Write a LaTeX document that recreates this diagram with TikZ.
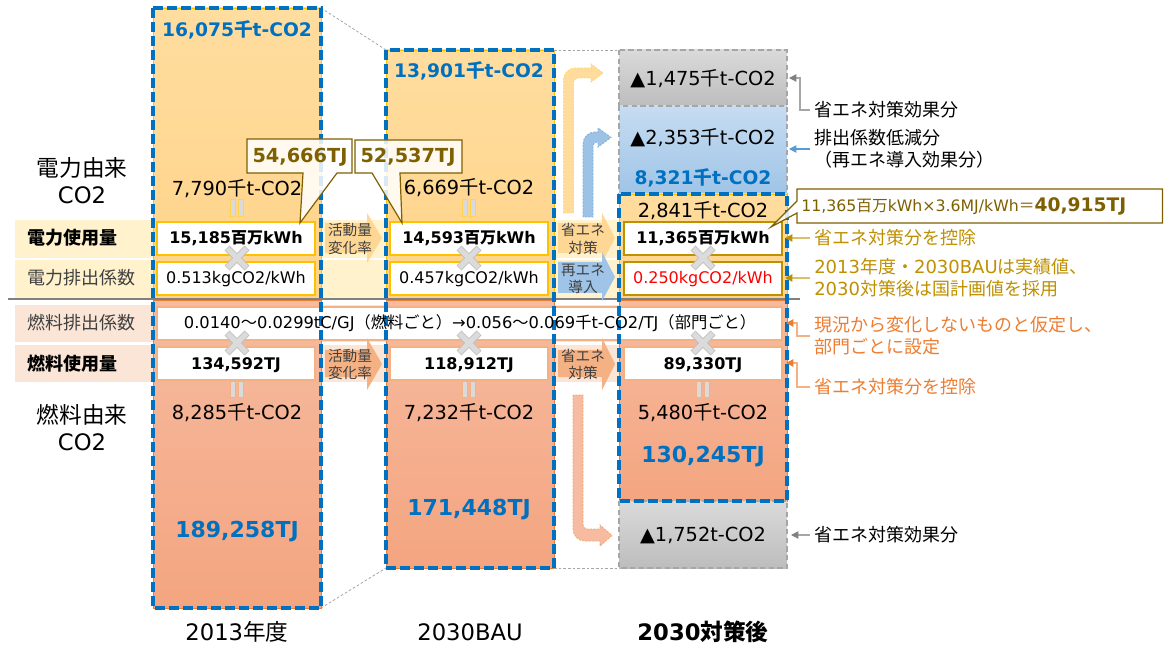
\documentclass[tikz,border=0pt]{standalone}
\usepackage{fontspec}
\setmainfont{DejaVu Sans}
\newfontfamily\jpfont{Noto Sans CJK JP}
\usetikzlibrary{arrows.meta,calc}
% automatic switch to the Japanese font for CJK characters
\XeTeXinterchartokenstate=1
\newXeTeXintercharclass\JPcls
\newcount\JPi
\JPi="3000
\loop
  \XeTeXcharclass\JPi=\JPcls
  \advance\JPi by 1
\ifnum\JPi<"A000 \repeat
\JPi="FF00
\loop
  \XeTeXcharclass\JPi=\JPcls
  \advance\JPi by 1
\ifnum\JPi<"FFF0 \repeat
\XeTeXinterchartoks 0 \JPcls = {\jpfont}
\XeTeXinterchartoks 4095 \JPcls = {\jpfont}
\XeTeXinterchartoks \JPcls 0 = {\rmfamily}
\XeTeXinterchartoks \JPcls 4095 = {\rmfamily}

\definecolor{cblue}{HTML}{0070C0}
\definecolor{elecA}{HTML}{FFDD9F}
\definecolor{elecB}{HTML}{FFD389}
\definecolor{fuelA}{HTML}{F6BBA0}
\definecolor{fuelB}{HTML}{F4A580}
\definecolor{bandE}{HTML}{FFF2CC}
\definecolor{bandF}{HTML}{FBE5D6}
\definecolor{gold}{HTML}{FFC000}
\definecolor{dgold}{HTML}{BF9000}
\definecolor{lgold}{HTML}{DDBF6A}
\definecolor{olive}{HTML}{7F6000}
\definecolor{orng}{HTML}{ED7D31}
\definecolor{lorng}{HTML}{F4B183}
\definecolor{gryA}{HTML}{DADADA}
\definecolor{gryB}{HTML}{BDBDBD}
\definecolor{gryD}{HTML}{A6A6A6}
\definecolor{bluA}{HTML}{C6DCF1}
\definecolor{bluB}{HTML}{9FC4E7}
\definecolor{bluL}{HTML}{5B9BD5}
\definecolor{txtg}{HTML}{404040}
\definecolor{redv}{HTML}{FF0000}

\tikzset{
 t17/.style={inner sep=0pt, font=\fontsize{17}{20}\selectfont, text height=13.6pt, text depth=1.4pt},
 t165/.style={inner sep=0pt, font=\fontsize{16.5}{19}\selectfont, text height=13.2pt, text depth=1.3pt},
 t145/.style={inner sep=0pt, font=\fontsize{14.5}{17}\selectfont, text height=11.6pt, text depth=1.2pt},
 t14/.style={inner sep=0pt, font=\fontsize{14}{16}\selectfont, text height=11.2pt, text depth=1.1pt},
 t135/.style={inner sep=0pt, font=\fontsize{13.5}{16}\selectfont, text height=10.8pt, text depth=1.1pt},
 t122/.style={inner sep=0pt, font=\fontsize{12.2}{14}\selectfont, text height=9.8pt, text depth=1pt},
 t12/.style={inner sep=0pt, font=\fontsize{12}{14}\selectfont, text height=9.6pt, text depth=1pt},
 t118/.style={inner sep=0pt, font=\fontsize{11.8}{14}\selectfont, text height=9.4pt, text depth=1pt},
 t11/.style={inner sep=0pt, font=\fontsize{11}{13}\selectfont, text height=8.8pt, text depth=0.9pt},
 ann/.style={t135, anchor=west, inner xsep=3pt},
 bdash/.style={draw=cblue, line width=2.6pt, dash pattern=on 7.5pt off 3pt},
 gdash/.style={draw=gryD, line width=0.9pt, dash pattern=on 4pt off 2.5pt},
 dotc/.style={draw=gryD, line width=0.6pt, dash pattern=on 2pt off 1.5pt},
 wbE/.style={draw=gold, line width=1pt, fill=white},
 wbE3/.style={draw=dgold, line width=1pt, fill=white},
 wbF/.style={draw=lorng, line width=1pt, fill=white},
 eqE/.style={fill=gryA, draw=gold!70, line width=0.6pt},
 eqF/.style={fill=gryA, draw=lorng, line width=0.6pt},
 xout/.style={draw=gray!50, line width=5.2pt},
 xin/.style={draw=gray!28, line width=3.8pt},
 pE/.style={fill=elecB!90!white},
 pF/.style={fill=lorng},
 pB/.style={fill=bluB},
 cY/.style={fill=elecA!85!elecB, draw=gold!60, line width=0.6pt, dash pattern=on 1.5pt off 1pt},
 cB/.style={fill=bluB!95!bluL, draw=bluL!80, line width=0.6pt, dash pattern=on 1.5pt off 1pt},
 cF/.style={fill=fuelA, draw=orng!70, line width=0.6pt, dash pattern=on 1.5pt off 1pt},
 co/.style={fill=white, fill opacity=0.85, draw=olive, line width=0.9pt},
 annG/.style={draw=gray!70, line width=0.8pt, -{Triangle[length=5.5pt,width=5.5pt,color=gray]}},
 annB/.style={draw=bluL, line width=0.8pt, -{Triangle[length=5.5pt,width=5.5pt]}},
 annY/.style={draw=lgold, line width=0.9pt, -{Triangle[length=5.5pt,width=5.5pt,color=dgold]}},
 annO/.style={draw=lorng, line width=0.9pt, -{Triangle[length=5.5pt,width=5.5pt,color=orng]}},
 sepl/.style={draw=gray, line width=1pt}
}
\newcommand\mulmark[2]{%
  \draw[xout] (#1-10,#2-10) -- (#1+10,#2+10) (#1-10,#2+10) -- (#1+10,#2-10);
  \draw[xin] (#1-9.5,#2-9.5) -- (#1+9.5,#2+9.5) (#1-9.5,#2+9.5) -- (#1+9.5,#2-9.5);}
\newcommand\eqbars[4]{% x, ytop, ybottom, style
  \draw[#4] (#1-7,#2) rectangle (#1-2,#3);
  \draw[#4] (#1+1,#2) rectangle (#1+6,#3);}

\begin{document}
\begin{tikzpicture}[x=0.75pt,y=-0.75pt]
\useasboundingbox (0,0) rectangle (1164,645);
\fill[white] (0,0) rectangle (1164,645);

% row bands
\fill[bandE] (15,220) rectangle (787,258);
\fill[bandE] (15,260) rectangle (787,298);
\fill[bandF] (15,305) rectangle (787,342);
\fill[bandF] (15,345) rectangle (787,382);

% column fills
\shadedraw[top color=elecA,bottom color=elecB,draw=gold,line width=0.6pt] (153,8) rectangle (321,298);
\shadedraw[top color=fuelA,bottom color=fuelB,draw=orng,line width=0.6pt] (153,300) rectangle (321,608);
\shadedraw[top color=elecA,bottom color=elecB,draw=gold,line width=0.6pt] (386,50) rectangle (554,298);
\shadedraw[top color=fuelA,bottom color=fuelB,draw=orng,line width=0.6pt] (386,300) rectangle (554,568);
\shadedraw[top color=gryA,bottom color=gryB,gdash] (619,50) rectangle (787,106);
\shadedraw[top color=bluA,bottom color=bluB,gdash] (619,106) rectangle (787,194);
\shadedraw[top color=elecA,bottom color=elecB,draw=gold,line width=0.6pt] (619,194) rectangle (787,298);
\shadedraw[top color=fuelA,bottom color=fuelB,draw=orng,line width=0.6pt] (619,300) rectangle (787,501);
\shadedraw[top color=gryA,bottom color=gryB,gdash] (619,501) rectangle (787,568);

% separator
\draw[sepl] (8,299) -- (800,299);

% dotted guides between columns
\coordinate (k1) at (321,8);   \coordinate (k2) at (386,50);
\coordinate (k3) at (554,50);  \coordinate (k4) at (619,50);
\coordinate (k5) at (321,608); \coordinate (k6) at (386,568);
\coordinate (k7) at (554,568); \coordinate (k8) at (619,568);
\draw[dotc] (k1) -- (k2);
\draw[dotc] (k3) -- (k4);
\draw[dotc] (k5) -- (k6);
\draw[dotc] (k7) -- (k8);

% white value boxes
\draw[wbE] (157,222) rectangle (315,255);
\draw[wbE] (157,262) rectangle (315,295);
\draw[wbE] (390,222) rectangle (548,255);
\draw[wbE] (390,262) rectangle (548,295);
\draw[wbE3] (624,222) rectangle (782,255);
\draw[wbE3] (624,262) rectangle (782,295);
\draw[wbF] (157,307) rectangle (782,340);
\draw[wbF] (157,347) rectangle (315,380);
\draw[wbF] (390,347) rectangle (548,380);
\draw[wbF] (624,347) rectangle (782,380);

% equal bars
\eqbars{237}{199}{216}{eqE}
\eqbars{469}{199}{216}{eqE}
\eqbars{237}{381}{397}{eqF}
\eqbars{469}{381}{397}{eqF}
\eqbars{703}{381}{397}{eqF}

% multiplication marks
\mulmark{237}{258}
\mulmark{469}{258}
\mulmark{703}{258}
\mulmark{237}{343}
\mulmark{469}{343}
\mulmark{703}{343}

% block arrows between columns
\fill[pE] (325,223) -- (367,223) -- (367,213) -- (382,238) -- (367,263) -- (367,253) -- (325,253) -- cycle;
\fill[pF] (325,350) -- (367,350) -- (367,338) -- (382,364) -- (367,390) -- (367,377) -- (325,377) -- cycle;
\fill[pE] (558,223) -- (602,223) -- (602,213) -- (615,238) -- (602,263) -- (602,253) -- (558,253) -- cycle;
\fill[pB] (558,262) -- (602,262) -- (602,252) -- (615,277) -- (602,301) -- (602,293) -- (558,293) -- cycle;
\fill[pF] (558,350) -- (602,350) -- (602,338) -- (615,364) -- (602,390) -- (602,377) -- (558,377) -- cycle;

% curved arrows
\filldraw[cY] (563.5,213) -- (563.5,80) arc[start angle=180,end angle=270,radius=12] -- (591,68) -- (591,64) -- (603,73) -- (591,82) -- (591,78) -- (578,78) arc[start angle=270,end angle=180,radius=4.5] -- (573.5,213) -- cycle;
\filldraw[cB] (583,217) -- (583,144) arc[start angle=180,end angle=270,radius=12] -- (598,132) -- (598,128) -- (611,137.5) -- (598,147) -- (598,142) -- (597,142) arc[start angle=270,end angle=180,radius=4] -- (593,217) -- cycle;
\filldraw[cF] (573,395) -- (573,529) arc[start angle=180,end angle=90,radius=12] -- (600,541) -- (600,546) -- (612,535.5) -- (600,525) -- (600,529) -- (587,529) arc[start angle=90,end angle=180,radius=4] -- (583,395) -- cycle;

% blue dashed totals
\draw[bdash] (153,8) rectangle (321,608);
\draw[bdash] (386,50) rectangle (554,568);
\draw[bdash] (619,194) rectangle (787,501);

% callouts
\filldraw[co] (247,139) -- (352,139) -- (352,173) -- (337,173) -- (300,223) -- (303,173) -- (247,173) -- cycle;
\filldraw[co] (355,140) -- (462,140) -- (462,173) -- (400,173) -- (402,223) -- (372,173) -- (355,173) -- cycle;
\filldraw[co] (797,189) -- (1162.5,189) -- (1162.5,223) -- (797,223) -- (797,213) -- (771,227) -- (797,201) -- cycle;
\node[t145,text=olive] (c1) at (300,156) {\textbf{54,666TJ}};
\node[t145,text=olive] (c2) at (408,156) {\textbf{52,537TJ}};
\node[t118,text=olive,anchor=west] (c3) at (801,206) {11,365百万kWh×3.6MJ/kWh＝\fontsize{14}{16}\selectfont\bfseries 40,915TJ};

% left labels
\node[t17] (L1a) at (82,168) {電力由来};
\node[t17] (L1b) at (82,195) {CO2};
\node[t17] (L2a) at (82,415) {燃料由来};
\node[t17] (L2b) at (82,442) {CO2};
\node[t135,anchor=west] (R1) at (27,238) {\textbf{電力使用量}};
\node[t135,anchor=west,text=txtg] (R2) at (27,278) {電力排出係数};
\node[t135,anchor=west,text=txtg] (R3) at (27,323) {燃料排出係数};
\node[t135,anchor=west] (R4) at (27,364) {\textbf{燃料使用量}};

% column 2013
\node[t14,text=cblue] (T1) at (237,30) {\textbf{16,075千t-CO2}};
\node[t145] (V1) at (237,189) {7,790千t-CO2};
\node[t12] (B1) at (236,238) {\textbf{15,185百万kWh}};
\node[t12] (F1) at (236,278) {0.513kgCO2/kWh};
\node[t12] (B2) at (236,364) {\textbf{134,592TJ}};
\node[t145] (V2) at (237,413) {8,285千t-CO2};
\node[t165,text=cblue] (TJ1) at (237,530) {\textbf{189,258TJ}};
\node[t17] (Y1) at (237,632) {2013年度};

% column 2030BAU
\node[t14,text=cblue] (T2) at (469,71) {\textbf{13,901千t-CO2}};
\node[t145] (V3) at (469,188) {6,669千t-CO2};
\node[t12] (B3) at (469,238) {\textbf{14,593百万kWh}};
\node[t12] (F2) at (469,278) {0.457kgCO2/kWh};
\node[t12] (B4) at (469,364) {\textbf{118,912TJ}};
\node[t145] (V4) at (469,413) {7,232千t-CO2};
\node[t165,text=cblue] (TJ2) at (469,508) {\textbf{171,448TJ}};
\node[t17] (Y2) at (470,632) {2030BAU};

% column 2030 after measures
\node[t145] (G1) at (703,79) {▲1,475千t-CO2};
\node[t145] (G2) at (703,138) {▲2,353千t-CO2};
\node[t14,text=cblue] (T3) at (703,178) {\textbf{8,321千t-CO2}};
\node[t145] (V5) at (703,211) {2,841千t-CO2};
\node[t12] (B5) at (703,238) {\textbf{11,365百万kWh}};
\node[t12,text=redv] (F3) at (703,278) {0.250kgCO2/kWh};
\node[t12] (B6) at (703,364) {\textbf{89,330TJ}};
\node[t145] (V6) at (703,413) {5,480千t-CO2};
\node[t165,text=cblue] (TJ3) at (703,455) {\textbf{130,245TJ}};
\node[t145] (G3) at (703,535) {▲1,752t-CO2};
\node[t17] (Y3) at (703,632) {\textbf{2030対策後}};

% fuel factor
\node[t122] (W) at (470,323) {0.0140～0.0299tC/GJ（燃料ごと）→0.056～0.069千t-CO2/TJ（部門ごと）};

% arrow texts
\node[t11,text=txtg] (m1a) at (350,230) {活動量};
\node[t11,text=txtg] (m1b) at (350,248) {変化率};
\node[t11,text=txtg] (m2a) at (350,356) {活動量};
\node[t11,text=txtg] (m2b) at (350,373) {変化率};
\node[t11,text=txtg] (m3a) at (583,230) {省エネ};
\node[t11,text=txtg] (m3b) at (583,248) {対策};
\node[t11,text=txtg] (m4a) at (583,270) {再エネ};
\node[t11,text=txtg] (m4b) at (583,287) {導入};
\node[t11,text=txtg] (m5a) at (583,356) {省エネ};
\node[t11,text=txtg] (m5b) at (583,373) {対策};

% right annotations
\node[ann] (A1) at (810,110) {省エネ対策効果分};
\node[ann] (A2) at (810,138) {排出係数低減分};
\node[ann] (A3) at (810,160) {（再エネ導入効果分）};
\node[ann,text=dgold] (A4) at (810,238) {省エネ対策分を控除};
\node[ann,text=dgold] (A5) at (810,267) {2013年度・2030BAUは実績値、};
\node[ann,text=dgold] (A6) at (810,289) {2030対策後は国計画値を採用};
\node[ann,text=orng] (A7) at (810,325) {現況から変化しないものと仮定し、};
\node[ann,text=orng] (A8) at (810,347) {部門ごとに設定};
\node[ann,text=orng] (A9) at (810,387) {省エネ対策分を控除};
\node[ann] (A10) at (810,535) {省エネ対策効果分};

\coordinate (e1) at (789,78);
\coordinate (e2) at (789,149);
\coordinate (e4) at (785,238);
\coordinate (e5) at (785,278);
\coordinate (e7) at (786,323);
\coordinate (e9) at (786,363);
\coordinate (e10) at (791,535);
\draw[annG] (A1.west) -- ++(-10,0) |- (e1);
\draw[annB] ($(A2.west)!0.5!(A3.west)$) -- (e2);
\draw[annY] (A4.west) -- (e4);
\draw[annY] ($(A5.west)!0.5!(A6.west)$) -- (e5);
\draw[annO] ($(A7.west)!0.5!(A8.west)$) -- ++(-13,0) |- (e7);
\draw[annO] (A9.west) -- ++(-13,0) |- (e9);
\draw[annG] (A10.west) -- (e10);
\end{tikzpicture}
\end{document}
